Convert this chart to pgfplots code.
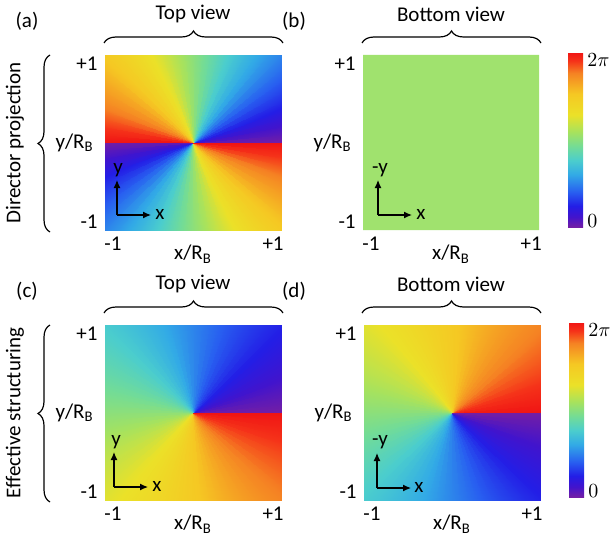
\documentclass[border=0pt]{standalone}
\usepackage{fontspec}
\setmainfont{Carlito}
\usepackage{pgfplots}
\usepackage{pgfplotstable}
\pgfplotsset{compat=1.18}
\usetikzlibrary{decorations.pathreplacing,arrows.meta}
\newcommand\fs{\fontsize{10.5}{12.6}\selectfont}
\definecolor{bgreen}{RGB}{160,226,110}
\pgfplotsset{colormap={rb}{
rgb255(0)=(115,30,165)
rgb255(6)=(65,20,205)
rgb255(12)=(35,30,230)
rgb255(20)=(40,95,240)
rgb255(30)=(50,170,230)
rgb255(38)=(75,205,205)
rgb255(46)=(115,220,150)
rgb255(54)=(165,226,95)
rgb255(64)=(235,225,40)
rgb255(76)=(245,200,35)
rgb255(88)=(245,130,35)
rgb255(95)=(245,50,25)
rgb255(100)=(240,20,20)
}}
\pgfplotsset{panel/.style={
  scale only axis, width=88pt, height=87.5pt, anchor=north west,
  xmin=-1,xmax=1,ymin=-1,ymax=1, enlargelimits=false,
  axis line style={draw=none}, major tick length=0pt,
  xtick={-0.91,0.91}, xticklabels={-1,+1},
  ytick={-0.9,0.9}, yticklabels={-1,+1},
  colormap name=rb, point meta min=0, point meta max=360,
  xlabel={x/R\textsubscript{B}}, ylabel={y/R\textsubscript{B}},
  xlabel style={at={(axis description cs:0.5,0)}, anchor=north, yshift=-4pt},
  ylabel style={rotate=-90, at={(axis description cs:0,0.5)}, anchor=east, xshift=-2pt},
  tick label style={font=\fs}, label style={font=\fs},
}}
\pgfplotstableread{
x y a c d
0 0 0 0 360
0 0 10 5 355
0 0 20 10 350
0 0 30 15 345
0 0 40 20 340
0 0 50 25 335
0 0 60 30 330
0 0 70 35 325
0 0 80 40 320
0 0 90 45 315
0 0 100 50 310
0 0 110 55 305
0 0 120 60 300
0 0 130 65 295
0 0 140 70 290
0 0 150 75 285
0 0 160 80 280
0 0 170 85 275
0 0 180 90 270
0 0 190 95 265
0 0 200 100 260
0 0 210 105 255
0 0 220 110 250
0 0 230 115 245
0 0 240 120 240
0 0 250 125 235
0 0 260 130 230
0 0 270 135 225
0 0 280 140 220
0 0 290 145 215
0 0 300 150 210
0 0 310 155 205
0 0 320 160 200
0 0 330 165 195
0 0 340 170 190
0 0 350 175 185
0 0 360 180 180
0 0 0 180 180
0 0 10 185 175
0 0 20 190 170
0 0 30 195 165
0 0 40 200 160
0 0 50 205 155
0 0 60 210 150
0 0 70 215 145
0 0 80 220 140
0 0 90 225 135
0 0 100 230 130
0 0 110 235 125
0 0 120 240 120
0 0 130 245 115
0 0 140 250 110
0 0 150 255 105
0 0 160 260 100
0 0 170 265 95
0 0 180 270 90
0 0 190 275 85
0 0 200 280 80
0 0 210 285 75
0 0 220 290 70
0 0 230 295 65
0 0 240 300 60
0 0 250 305 55
0 0 260 310 50
0 0 270 315 45
0 0 280 320 40
0 0 290 325 35
0 0 300 330 30
0 0 310 335 25
0 0 320 340 20
0 0 330 345 15
0 0 340 350 10
0 0 350 355 5
0 0 360 360 0
1 0 0 0 360
1 0.0875 10 5 355
1 0.1763 20 10 350
1 0.2679 30 15 345
1 0.3640 40 20 340
1 0.4663 50 25 335
1 0.5774 60 30 330
1 0.7002 70 35 325
1 0.8391 80 40 320
1 1 90 45 315
0.8391 1 100 50 310
0.7002 1 110 55 305
0.5774 1 120 60 300
0.4663 1 130 65 295
0.3640 1 140 70 290
0.2679 1 150 75 285
0.1763 1 160 80 280
0.0875 1 170 85 275
0 1 180 90 270
-0.0875 1 190 95 265
-0.1763 1 200 100 260
-0.2679 1 210 105 255
-0.3640 1 220 110 250
-0.4663 1 230 115 245
-0.5774 1 240 120 240
-0.7002 1 250 125 235
-0.8391 1 260 130 230
-1 1 270 135 225
-1 0.8391 280 140 220
-1 0.7002 290 145 215
-1 0.5774 300 150 210
-1 0.4663 310 155 205
-1 0.3640 320 160 200
-1 0.2679 330 165 195
-1 0.1763 340 170 190
-1 0.0875 350 175 185
-1 0 360 180 180
-1 0 0 180 180
-1 -0.0875 10 185 175
-1 -0.1763 20 190 170
-1 -0.2679 30 195 165
-1 -0.3640 40 200 160
-1 -0.4663 50 205 155
-1 -0.5774 60 210 150
-1 -0.7002 70 215 145
-1 -0.8391 80 220 140
-1 -1 90 225 135
-0.8391 -1 100 230 130
-0.7002 -1 110 235 125
-0.5774 -1 120 240 120
-0.4663 -1 130 245 115
-0.3640 -1 140 250 110
-0.2679 -1 150 255 105
-0.1763 -1 160 260 100
-0.0875 -1 170 265 95
0 -1 180 270 90
0.0875 -1 190 275 85
0.1763 -1 200 280 80
0.2679 -1 210 285 75
0.3640 -1 220 290 70
0.4663 -1 230 295 65
0.5774 -1 240 300 60
0.7002 -1 250 305 55
0.8391 -1 260 310 50
1 -1 270 315 45
1 -0.8391 280 320 40
1 -0.7002 290 325 35
1 -0.5774 300 330 30
1 -0.4663 310 335 25
1 -0.3640 320 340 20
1 -0.2679 330 345 15
1 -0.1763 340 350 10
1 -0.0875 350 355 5
1 0 360 360 0
}\ring
\pgfplotsset{cbar/.style={colorbar, colorbar style={at={(parent axis.north east)}, anchor=north west,
  xshift=6pt, yshift=1.5pt, scale only axis, width=7.5pt, height=87.5pt,
  ytick={12,343}, yticklabels={$0$,$2\pi$}, major tick length=0pt,
  axis line style={draw=none}, yticklabel style={font=\fontsize{10}{12}\selectfont, xshift=-1.5pt}}}}
\begin{document}\fs%
\begin{tikzpicture}
\useasboundingbox (0,0) rectangle (307pt,-267pt);
% (a)
\begin{axis}[panel, at={(52.5pt,-27.5pt)}]
\addplot[surf, shader=interp, mesh/rows=2, point meta=explicit] table[x=x,y=y,meta=a] {\ring};
\end{axis}
% (b)
\begin{axis}[panel, at={(181.5pt,-27.5pt)}, cbar]
\addplot[fill=bgreen, draw=none] coordinates {(-1,-1) (1,-1) (1,1) (-1,1) (-1,-1)};
\end{axis}
% (c)
\begin{axis}[panel, at={(52.5pt,-162.5pt)}]
\addplot[surf, shader=interp, mesh/rows=2, point meta=explicit] table[x=x,y=y,meta=c] {\ring};
\end{axis}
% (d)
\begin{axis}[panel, at={(182pt,-162.5pt)}, cbar]
\addplot[surf, shader=interp, mesh/rows=2, point meta=explicit] table[x=x,y=y,meta=d] {\ring};
\end{axis}
\begin{scope}[x=0.5pt,y=-0.5pt, every node/.style={font=\fs}]
\node at (27,21) {(a)};
\node at (294,21) {(b)};
\node at (27,291) {(c)};
\node at (294,291) {(d)};
\node at (193,14) {Top view};
\node at (451,14) {Bottom view};
\node at (193,284) {Top view};
\node at (451,284) {Bottom view};
\draw[line width=0.6pt, decorate, decoration={brace, amplitude=6pt}] (104,43) -- (283,43);
\draw[line width=0.6pt, decorate, decoration={brace, amplitude=6pt}] (362,43) -- (541,43);
\draw[line width=0.6pt, decorate, decoration={brace, amplitude=6pt}] (104,313) -- (283,313);
\draw[line width=0.6pt, decorate, decoration={brace, amplitude=6pt}] (362,313) -- (541,313);
\draw[line width=0.6pt, decorate, decoration={brace, amplitude=6pt}] (50,232) -- (50,55);
\draw[line width=0.6pt, decorate, decoration={brace, amplitude=6pt}] (50,502) -- (50,325);
\node[rotate=90] at (15,143) {Director projection};
\node[rotate=90] at (15,413) {Effective structuring};
% axis icons
\draw[line width=0.6pt, -{Latex[length=4pt,width=3.5pt]}] (117,215) -- (151,215);
\draw[line width=0.6pt, -{Latex[length=4pt,width=3.5pt]}] (117,215) -- (117,180);
\node at (118,170) {y}; \node at (160,214) {x};
\draw[line width=0.6pt, -{Latex[length=4pt,width=3.5pt]}] (378,215) -- (412,215);
\draw[line width=0.6pt, -{Latex[length=4pt,width=3.5pt]}] (378,215) -- (378,180);
\node at (380,170) {-y}; \node at (421,214) {x};
\draw[line width=0.6pt, -{Latex[length=4pt,width=3.5pt]}] (114,487) -- (148,487);
\draw[line width=0.6pt, -{Latex[length=4pt,width=3.5pt]}] (114,487) -- (114,452);
\node at (116,442) {y}; \node at (157,486) {x};
\draw[line width=0.6pt, -{Latex[length=4pt,width=3.5pt]}] (377,488) -- (411,488);
\draw[line width=0.6pt, -{Latex[length=4pt,width=3.5pt]}] (377,488) -- (377,453);
\node at (380,442) {-y}; \node at (419,487) {x};
\end{scope}
\end{tikzpicture}
\end{document}
